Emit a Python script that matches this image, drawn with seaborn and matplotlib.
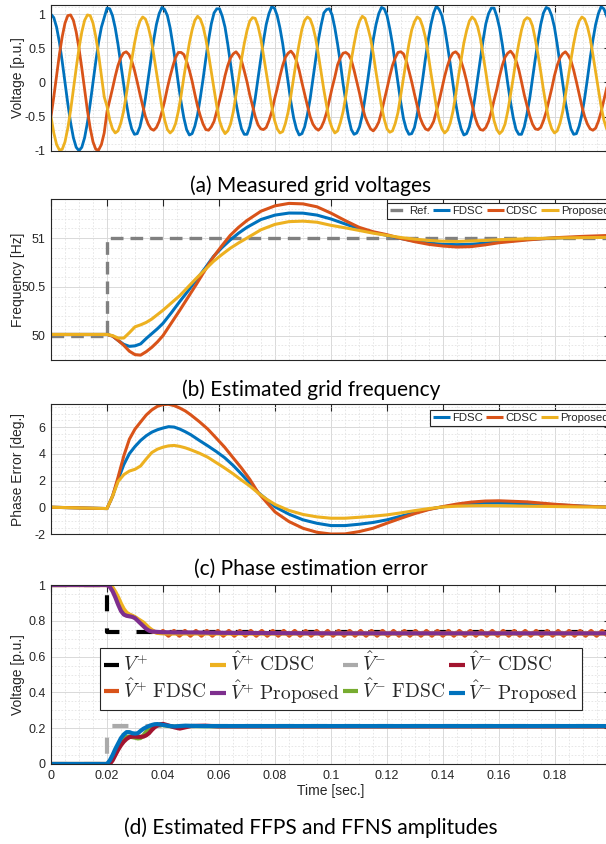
import numpy as np
import matplotlib
matplotlib.use("Agg")
import matplotlib.pyplot as plt
from matplotlib.ticker import MultipleLocator, FuncFormatter
import seaborn as sns

# ---------------- (a) measured grid voltages ----------------
# 50 Hz before the step, sampled every 1 ms (t = 0 ... 0.019 s)
va_pre = [1.0, 0.95, 0.81, 0.59, 0.31, 0.0, -0.31, -0.59, -0.81, -0.95,
          -1.0, -0.95, -0.81, -0.59, -0.31, 0.0, 0.31, 0.59, 0.81, 0.95]
vb_pre = [-0.5, -0.21, 0.10, 0.41, 0.67, 0.87, 0.98, 0.99, 0.91, 0.74,
          0.5, 0.21, -0.10, -0.41, -0.67, -0.87, -0.98, -0.99, -0.91, -0.74]
vc_pre = [-0.5, -0.74, -0.91, -0.99, -0.98, -0.87, -0.67, -0.41, -0.10, 0.21,
          0.5, 0.74, 0.91, 0.99, 0.98, 0.87, 0.67, 0.41, 0.10, -0.21]

# 51 Hz, unbalanced, from t = 0.02 s, 20 samples per cycle
va_post = [
    1.09, 1.08, 0.98, 0.80, 0.56, 0.28, -0.01, -0.29, -0.52, -0.68, -0.76, -0.75, -0.65, -0.47, -0.23, 0.05, 0.34, 0.62, 0.85, 1.01,
    1.10, 1.07, 0.98, 0.80, 0.55, 0.28, -0.02, -0.29, -0.52, -0.69, -0.77, -0.75, -0.64, -0.47, -0.22, 0.05, 0.35, 0.62, 0.86, 1.02,
    1.08, 1.08, 0.97, 0.81, 0.56, 0.27, -0.01, -0.30, -0.51, -0.68, -0.76, -0.76, -0.65, -0.46, -0.23, 0.06, 0.34, 0.61, 0.85, 1.01,
    1.11, 1.09, 0.98, 0.80, 0.57, 0.28, -0.01, -0.29, -0.52, -0.68, -0.77, -0.75, -0.65, -0.47, -0.24, 0.05, 0.34, 0.62, 0.84, 1.02,
    1.07, 1.08, 0.99, 0.80, 0.56, 0.29, -0.02, -0.28, -0.52, -0.69, -0.76, -0.74, -0.65, -0.48, -0.23, 0.04, 0.34, 0.63, 0.85, 1.01,
    1.10, 1.08, 0.98, 0.79, 0.56, 0.28, -0.01, -0.29, -0.53, -0.68, -0.76, -0.75, -0.66, -0.47, -0.22, 0.05, 0.35, 0.62, 0.85, 1.02,
    1.12, 1.07, 0.98, 0.80, 0.55, 0.28, -0.01, -0.30, -0.52, -0.68, -0.77, -0.75, -0.65, -0.47, -0.23, 0.05, 0.34, 0.62, 0.86, 1.01,
    1.09, 1.09, 0.97, 0.80, 0.56, 0.27, -0.02, -0.29, -0.52, -0.69, -0.76, -0.76, -0.65, -0.46, -0.23, 0.06, 0.34, 0.61, 0.85, 1.02,
    1.10, 1.08, 0.98, 0.81, 0.56, 0.28, -0.01, -0.29, -0.51, -0.68, -0.76, -0.75, -0.64, -0.47, -0.23, 0.05, 0.35, 0.62, 0.85, 1.01,
    1.11, 1.08, 0.98, 0.80, 0.56]
vb_post = [
    -0.43, -0.26, -0.09, 0.09, 0.25, 0.36, 0.43, 0.45, 0.41, 0.32, 0.18, 0.01, -0.17, -0.34, -0.50, -0.61, -0.68, -0.70, -0.66, -0.57,
    -0.43, -0.27, -0.08, 0.09, 0.24, 0.37, 0.44, 0.44, 0.41, 0.31, 0.18, 0.02, -0.17, -0.35, -0.49, -0.61, -0.69, -0.70, -0.65, -0.57,
    -0.42, -0.26, -0.09, 0.10, 0.25, 0.36, 0.42, 0.45, 0.40, 0.32, 0.17, 0.01, -0.18, -0.34, -0.50, -0.62, -0.68, -0.69, -0.66, -0.56,
    -0.43, -0.25, -0.09, 0.09, 0.25, 0.37, 0.43, 0.46, 0.41, 0.32, 0.18, 0.00, -0.17, -0.34, -0.50, -0.61, -0.67, -0.70, -0.66, -0.57,
    -0.44, -0.26, -0.08, 0.08, 0.26, 0.36, 0.43, 0.44, 0.41, 0.33, 0.18, 0.01, -0.16, -0.35, -0.50, -0.60, -0.68, -0.71, -0.66, -0.58,
    -0.43, -0.26, -0.09, 0.09, 0.25, 0.36, 0.44, 0.45, 0.42, 0.32, 0.17, 0.01, -0.17, -0.34, -0.51, -0.61, -0.68, -0.70, -0.65, -0.57,
    -0.42, -0.27, -0.09, 0.09, 0.24, 0.36, 0.43, 0.45, 0.41, 0.31, 0.18, 0.02, -0.17, -0.33, -0.50, -0.62, -0.69, -0.70, -0.66, -0.57,
    -0.43, -0.26, -0.10, 0.09, 0.25, 0.37, 0.43, 0.46, 0.41, 0.32, 0.19, 0.01, -0.18, -0.34, -0.49, -0.61, -0.68, -0.69, -0.66, -0.56,
    -0.43, -0.26, -0.09, 0.10, 0.25, 0.36, 0.42, 0.45, 0.40, 0.32, 0.18, 0.01, -0.17, -0.35, -0.50, -0.61, -0.68, -0.70, -0.67, -0.57,
    -0.43, -0.26, -0.09, 0.09, 0.25]
vc_post = [
    -0.35, -0.55, -0.68, -0.74, -0.71, -0.60, -0.43, -0.19, 0.07, 0.33, 0.57, 0.77, 0.90, 0.96, 0.93, 0.82, 0.65, 0.41, 0.15, -0.11,
    -0.36, -0.55, -0.69, -0.74, -0.70, -0.60, -0.42, -0.19, 0.08, 0.33, 0.58, 0.77, 0.91, 0.97, 0.93, 0.82, 0.64, 0.41, 0.15, -0.10,
    -0.35, -0.56, -0.68, -0.75, -0.71, -0.61, -0.43, -0.18, 0.07, 0.34, 0.57, 0.76, 0.90, 0.95, 0.94, 0.83, 0.65, 0.40, 0.16, -0.11,
    -0.35, -0.55, -0.68, -0.74, -0.72, -0.60, -0.43, -0.19, 0.07, 0.33, 0.57, 0.78, 0.91, 0.96, 0.93, 0.82, 0.65, 0.41, 0.15, -0.11,
    -0.34, -0.55, -0.67, -0.74, -0.71, -0.59, -0.43, -0.20, 0.06, 0.33, 0.56, 0.77, 0.90, 0.97, 0.94, 0.81, 0.65, 0.42, 0.15, -0.10,
    -0.35, -0.54, -0.68, -0.73, -0.71, -0.60, -0.44, -0.19, 0.07, 0.32, 0.57, 0.77, 0.89, 0.96, 0.93, 0.82, 0.66, 0.41, 0.14, -0.11,
    -0.36, -0.55, -0.68, -0.74, -0.70, -0.60, -0.43, -0.19, 0.08, 0.33, 0.58, 0.76, 0.90, 0.96, 0.92, 0.82, 0.65, 0.40, 0.15, -0.12,
    -0.35, -0.56, -0.69, -0.75, -0.71, -0.61, -0.42, -0.18, 0.07, 0.34, 0.57, 0.77, 0.91, 0.95, 0.93, 0.83, 0.64, 0.41, 0.16, -0.11,
    -0.35, -0.55, -0.68, -0.74, -0.71, -0.60, -0.43, -0.19, 0.07, 0.33, 0.57, 0.77, 0.90, 0.96, 0.93, 0.82, 0.65, 0.41, 0.15, -0.10,
    -0.35, -0.55, -0.68, -0.74, -0.71]

# ---------------- (b) estimated grid frequency [Hz] ----------------
freq_t = [0, 0.02, 0.022, 0.024, 0.026, 0.028, 0.030, 0.032, 0.034, 0.036, 0.038, 0.040,
          0.043, 0.046, 0.049, 0.052, 0.055, 0.058, 0.061, 0.064, 0.067, 0.070,
          0.075, 0.080, 0.085, 0.090, 0.095, 0.100, 0.105, 0.110, 0.115, 0.120,
          0.125, 0.130, 0.135, 0.140, 0.145, 0.150, 0.155, 0.160, 0.170, 0.180, 0.190, 0.200]
freq_fdsc = [50.012, 50.012, 49.995, 49.95, 49.91, 49.89, 49.895, 49.915, 49.97, 50.02, 50.07, 50.126,
             50.235, 50.35, 50.46, 50.575, 50.69, 50.81, 50.9, 50.98, 51.05, 51.11,
             51.19, 51.235, 51.256, 51.255, 51.235, 51.195, 51.145, 51.095, 51.058, 51.027,
             50.995, 50.968, 50.948, 50.936, 50.932, 50.936, 50.948, 50.962, 50.985, 51.0, 51.008, 51.014]
freq_cdsc = [50.012, 50.012, 49.995, 49.95, 49.9, 49.84, 49.805, 49.80, 49.835, 49.88, 49.935, 50.0,
             50.13, 50.26, 50.395, 50.53, 50.67, 50.806, 50.92, 51.027, 51.11, 51.18,
             51.275, 51.33, 51.355, 51.35, 51.32, 51.255, 51.18, 51.11, 51.065, 51.034,
             50.995, 50.962, 50.935, 50.918, 50.908, 50.912, 50.93, 50.952, 50.98, 51.003, 51.017, 51.027]
freq_prop = [50.012, 50.012, 50.0, 49.975, 49.975, 50.03, 50.09, 50.11, 50.135, 50.17, 50.215, 50.26,
             50.335, 50.41, 50.5, 50.59, 50.675, 50.76, 50.83, 50.895, 50.95, 51.0,
             51.085, 51.14, 51.168, 51.173, 51.162, 51.13, 51.105, 51.078, 51.05, 51.027,
             51.005, 50.988, 50.975, 50.968, 50.965, 50.97, 50.976, 50.983, 50.993, 51.0, 51.004, 51.007]
freq_ref_t = [0, 0.02, 0.02, 0.2]
freq_ref = [50, 50, 51, 51]

# ---------------- (c) phase estimation error [deg.] ----------------
phase_t = [0, 0.02, 0.022, 0.024, 0.026, 0.028, 0.030, 0.032, 0.034, 0.036, 0.038, 0.040,
           0.042, 0.044, 0.046, 0.048, 0.050, 0.053, 0.056, 0.059, 0.062, 0.065,
           0.068, 0.071, 0.074, 0.077, 0.080, 0.085, 0.090, 0.095, 0.100, 0.105,
           0.110, 0.115, 0.120, 0.125, 0.130, 0.135, 0.140, 0.145, 0.150, 0.155,
           0.160, 0.170, 0.180, 0.190, 0.200]
phase_fdsc = [0.02, -0.08, 0.85, 2.1, 3.2, 4.02, 4.55, 5.0, 5.35, 5.62, 5.8, 5.93,
              6.03, 6.0, 5.85, 5.65, 5.42, 5.0, 4.6, 4.18, 3.72, 3.15,
              2.5, 1.82, 1.12, 0.6, 0.05, -0.5, -0.92, -1.18, -1.35, -1.35,
              -1.25, -1.12, -0.92, -0.65, -0.38, -0.12, 0.05, 0.18, 0.27, 0.32,
              0.33, 0.29, 0.2, 0.1, 0.03]
phase_cdsc = [0.02, -0.08, 0.85, 2.3, 3.85, 5.1, 5.85, 6.38, 6.9, 7.28, 7.55, 7.68,
              7.7, 7.6, 7.42, 7.2, 6.9, 6.4, 5.85, 5.18, 4.5, 3.72,
              2.95, 2.1, 1.1, 0.38, -0.33, -1.05, -1.55, -1.85, -1.98, -1.97,
              -1.8, -1.55, -1.17, -0.8, -0.45, -0.15, 0.07, 0.26, 0.4, 0.48,
              0.5, 0.42, 0.24, 0.1, 0.02]
phase_prop = [0.02, -0.08, 0.85, 1.95, 2.45, 2.72, 2.85, 3.1, 3.62, 4.1, 4.35, 4.5,
              4.6, 4.63, 4.56, 4.45, 4.3, 4.05, 3.75, 3.35, 2.95, 2.52,
              2.05, 1.6, 1.08, 0.62, 0.23, -0.22, -0.52, -0.7, -0.8, -0.8,
              -0.73, -0.65, -0.55, -0.4, -0.23, -0.08, 0.04, 0.1, 0.13, 0.14,
              0.13, 0.1, 0.07, 0.04, 0.03]

# ---------------- (d) FFPS / FFNS amplitudes [p.u.] ----------------
amp_t = [0, 0.020, 0.021, 0.022, 0.023, 0.024, 0.025, 0.026, 0.027, 0.028, 0.029, 0.030,
         0.031, 0.032, 0.033, 0.034, 0.035, 0.036, 0.037, 0.038, 0.039, 0.040,
         0.042, 0.044, 0.046, 0.048, 0.050, 0.055, 0.060, 0.080, 0.100, 0.120,
         0.140, 0.160, 0.180, 0.200]
pos_cdsc = [1.0, 1.0, 1.0, 0.985, 0.96, 0.93, 0.895, 0.865, 0.845, 0.835, 0.828, 0.82,
            0.81, 0.80, 0.79, 0.775, 0.76, 0.748, 0.738, 0.733, 0.731, 0.730,
            0.729, 0.729, 0.729, 0.729, 0.729, 0.729, 0.729, 0.729, 0.729, 0.729,
            0.729, 0.729, 0.729, 0.729]
pos_prop = [1.0, 1.0, 0.99, 0.965, 0.93, 0.89, 0.855, 0.835, 0.828, 0.825, 0.822, 0.815,
            0.80, 0.785, 0.77, 0.755, 0.745, 0.74, 0.739, 0.738, 0.737, 0.736,
            0.736, 0.735, 0.735, 0.735, 0.735, 0.734, 0.733, 0.731, 0.730, 0.730,
            0.730, 0.730, 0.730, 0.730]
neg_fdsc = [0.0, 0.0, 0.005, 0.03, 0.06, 0.09, 0.115, 0.14, 0.152, 0.153, 0.15, 0.147,
            0.143, 0.145, 0.16, 0.18, 0.195, 0.208, 0.215, 0.218, 0.218, 0.217,
            0.212, 0.209, 0.21, 0.212, 0.212, 0.211, 0.211, 0.211, 0.211, 0.211,
            0.211, 0.211, 0.211, 0.211]
neg_cdsc = [0.0, 0.0, 0.0, 0.02, 0.05, 0.08, 0.105, 0.125, 0.14, 0.15, 0.153, 0.153,
            0.152, 0.152, 0.153, 0.16, 0.172, 0.19, 0.205, 0.215, 0.222, 0.224,
            0.215, 0.205, 0.198, 0.205, 0.212, 0.214, 0.21, 0.21, 0.21, 0.21,
            0.21, 0.21, 0.21, 0.21]
neg_prop = [0.0, 0.0, 0.02, 0.05, 0.085, 0.115, 0.145, 0.165, 0.178, 0.178, 0.172, 0.17,
            0.172, 0.185, 0.197, 0.205, 0.212, 0.218, 0.222, 0.223, 0.221, 0.218,
            0.213, 0.21, 0.212, 0.214, 0.213, 0.212, 0.212, 0.212, 0.212, 0.212,
            0.212, 0.212, 0.212, 0.212]
# FDSC positive sequence: transient, then a small ripple around 0.73
pos_fdsc_start = [1.0, 1.0, 0.995, 0.975, 0.945, 0.91, 0.875, 0.85, 0.835, 0.83, 0.826,
                  0.818, 0.805, 0.792, 0.778, 0.763, 0.75, 0.742, 0.738, 0.735, 0.733]
pos_fdsc_ripple = [0.743, 0.717, 0.743, 0.717, 0.743, 0.717, 0.743, 0.717, 0.743, 0.717,
                   0.743, 0.717, 0.743, 0.717, 0.743, 0.717, 0.743, 0.717, 0.743, 0.717,
                   0.743, 0.717, 0.743, 0.717, 0.743, 0.717, 0.743, 0.717, 0.743, 0.717,
                   0.743, 0.717, 0.743, 0.717, 0.743, 0.717, 0.743, 0.717, 0.743, 0.717,
                   0.743, 0.717, 0.743, 0.717, 0.743, 0.717, 0.743, 0.717, 0.743, 0.717,
                   0.743, 0.717, 0.743, 0.717, 0.743, 0.717, 0.743, 0.717, 0.743, 0.717,
                   0.743, 0.717, 0.743, 0.717, 0.743, 0.717, 0.743, 0.717, 0.743, 0.717,
                   0.743, 0.717, 0.743, 0.717, 0.743, 0.717, 0.743, 0.717, 0.743, 0.717,
                   0.743, 0.717]
ref_t = [0, 0.02, 0.02, 0.2]
pos_ref = [1.0, 1.0, 0.735, 0.735]
neg_ref = [0.0, 0.0, 0.212, 0.212]

# sample times
wave_t = np.concatenate([np.arange(len(va_pre)) * 0.001,
                         0.02 + np.arange(len(va_post)) / (51 * 20)])
pos_fdsc_t = np.concatenate([[0.0], 0.02 + np.arange(len(pos_fdsc_start) - 1) * 0.001,
                             0.04 + np.arange(len(pos_fdsc_ripple)) * 0.00196])

# MATLAB default colours
BLUE, ORANGE, YELLOW = "#0072BD", "#D95319", "#EDB120"
PURPLE, GREEN, RED = "#7E2F8E", "#77AC30", "#A2142F"
INK = "#262626"

sns.set_theme(style="white")
plt.rcParams["font.family"] = ["Liberation Sans", "DejaVu Sans"]
plt.rcParams["mathtext.fontset"] = "cm"
plt.rcParams["axes.unicode_minus"] = False

W, H = 606, 844
fig = plt.figure(figsize=(W / 100, H / 100), dpi=100)


def make_axes(top, bottom, left=51, right=611):
    return fig.add_axes([left / W, 1 - bottom / H, (right - left) / W, (bottom - top) / H])


def style_axes(ax, ylim, yticks, yminor, ylabel, xlabels=False):
    ax.set_xlim(0, 0.2)
    ax.set_ylim(*ylim)
    ax.set_xticks([0, 0.02, 0.04, 0.06, 0.08, 0.1, 0.12, 0.14, 0.16, 0.18])
    ax.set_yticks(yticks)
    ax.xaxis.set_minor_locator(MultipleLocator(0.005))
    ax.yaxis.set_minor_locator(MultipleLocator(yminor))
    fmt = FuncFormatter(lambda v, p: f"{v:g}")
    ax.xaxis.set_major_formatter(fmt)
    ax.yaxis.set_major_formatter(fmt)
    ax.set_axisbelow(True)
    ax.grid(which="major", color="#d9d9d9", lw=0.7)
    ax.grid(which="minor", color="#e3e3e3", lw=0.6, ls=(0, (2, 2)))
    ax.tick_params(which="major", direction="in", length=5, width=0.8, color=INK,
                   labelsize=9, labelcolor=INK, top=True, right=True, pad=4)
    ax.tick_params(which="minor", length=0)
    if not xlabels:
        ax.tick_params(labelbottom=False)
    for s in ax.spines.values():
        s.set_color(INK)
        s.set_linewidth(0.8)
    ax.set_ylabel(ylabel, fontsize=10, color=INK)
    ax.yaxis.set_label_coords(-0.046, 0.5)


def line(ax, x, y, color, lw, ls="-"):
    sns.lineplot(x=x, y=y, ax=ax, color=color, lw=lw, estimator=None, sort=False)
    ln = ax.lines[-1]
    ln.set_linestyle(ls)
    ln.set_solid_capstyle("butt")
    return ln


def small_legend(ax, handles, labels, x, y):
    lg = ax.legend(handles, labels, ncol=len(labels), loc="upper left",
                   bbox_to_anchor=(x / W, 1 - y / H), bbox_transform=fig.transFigure,
                   borderaxespad=0, fontsize=8.2, handlelength=1.5, handletextpad=0.18,
                   columnspacing=0.3, borderpad=0.25, fancybox=False, framealpha=1,
                   edgecolor=INK)
    lg.get_frame().set_linewidth(0.8)
    return lg


# (a)
ax = make_axes(4.7, 150.7)
line(ax, wave_t, va_pre + va_post, BLUE, 2.0)
line(ax, wave_t, vb_pre + vb_post, ORANGE, 2.0)
line(ax, wave_t, vc_pre + vc_post, YELLOW, 2.0)
style_axes(ax, (-1, 1.14), [-1, -0.5, 0, 0.5, 1], 0.1, "Voltage [p.u.]")

# (b)
ax = make_axes(199, 360)
h_ref = line(ax, freq_ref_t, freq_ref, "#808080", 2.4, (0, (3.8, 2.1)))
h_f = line(ax, freq_t, freq_fdsc, BLUE, 2.2)
h_c = line(ax, freq_t, freq_cdsc, ORANGE, 2.2)
h_p = line(ax, freq_t, freq_prop, YELLOW, 2.2)
style_axes(ax, (49.75, 51.4), [50, 50.5, 51], 0.1, "Frequency [Hz]")
small_legend(ax, [h_ref, h_f, h_c, h_p], ["Ref.", "FDSC", "CDSC", "Proposed"], 387, 203)

# (c)
ax = make_axes(404.3, 534.3)
h_f = line(ax, phase_t, phase_fdsc, BLUE, 2.2)
h_c = line(ax, phase_t, phase_cdsc, ORANGE, 2.2)
h_p = line(ax, phase_t, phase_prop, YELLOW, 2.2)
style_axes(ax, (-2, 7.7), [-2, 0, 2, 4, 6], 0.5, "Phase Error [deg.]")
small_legend(ax, [h_f, h_c, h_p], ["FDSC", "CDSC", "Proposed"], 430, 410)

# (d)
ax = make_axes(585, 764)
dash = (0, (3.85, 4.1))
hd = [
    line(ax, ref_t, pos_ref, "black", 3.0, dash),
    line(ax, pos_fdsc_t, pos_fdsc_start + pos_fdsc_ripple, ORANGE, 3.0),
    line(ax, amp_t, pos_cdsc, YELLOW, 3.0),
    line(ax, amp_t, pos_prop, PURPLE, 3.0),
    line(ax, ref_t, neg_ref, "#aaaaaa", 3.0, dash),
    line(ax, amp_t, neg_fdsc, GREEN, 3.0),
    line(ax, amp_t, neg_cdsc, RED, 3.0),
    line(ax, amp_t, neg_prop, BLUE, 3.0),
]
style_axes(ax, (0, 1), [0, 0.2, 0.4, 0.6, 0.8, 1], 0.05, "Voltage [p.u.]", xlabels=True)
ax.set_xlabel("Time [sec.]", fontsize=10, color=INK, labelpad=2)
labels_d = [r"$V^{+}$", r"$\hat{V}^{+}\ \mathrm{FDSC}$", r"$\hat{V}^{+}\ \mathrm{CDSC}$",
            r"$\hat{V}^{+}\ \mathrm{Proposed}$", r"$\hat{V}^{-}$", r"$\hat{V}^{-}\ \mathrm{FDSC}$",
            r"$\hat{V}^{-}\ \mathrm{CDSC}$", r"$\hat{V}^{-}\ \mathrm{Proposed}$"]
lg = ax.legend(hd, labels_d, ncol=4, loc="upper left",
               bbox_to_anchor=(100 / W, 1 - 648 / H), bbox_transform=fig.transFigure,
               borderaxespad=0, fontsize=14, handlelength=0.8, handletextpad=0.2,
               columnspacing=0.2, borderpad=0.2, labelspacing=0.15, fancybox=False,
               framealpha=1, edgecolor=INK)
lg.get_frame().set_linewidth(0.8)

# captions
captions = ["(a) Measured grid voltages", "(b) Estimated grid frequency",
            "(c) Phase estimation error", "(d) Estimated FFPS and FFNS amplitudes"]
for txt, yc in zip(captions, [185.5, 390, 569, 828]):
    fig.text(311 / W, 1 - yc / H, txt, ha="center", va="center",
             fontsize=15, family="Lato", color="black")

fig.savefig("out.png", dpi=100)
